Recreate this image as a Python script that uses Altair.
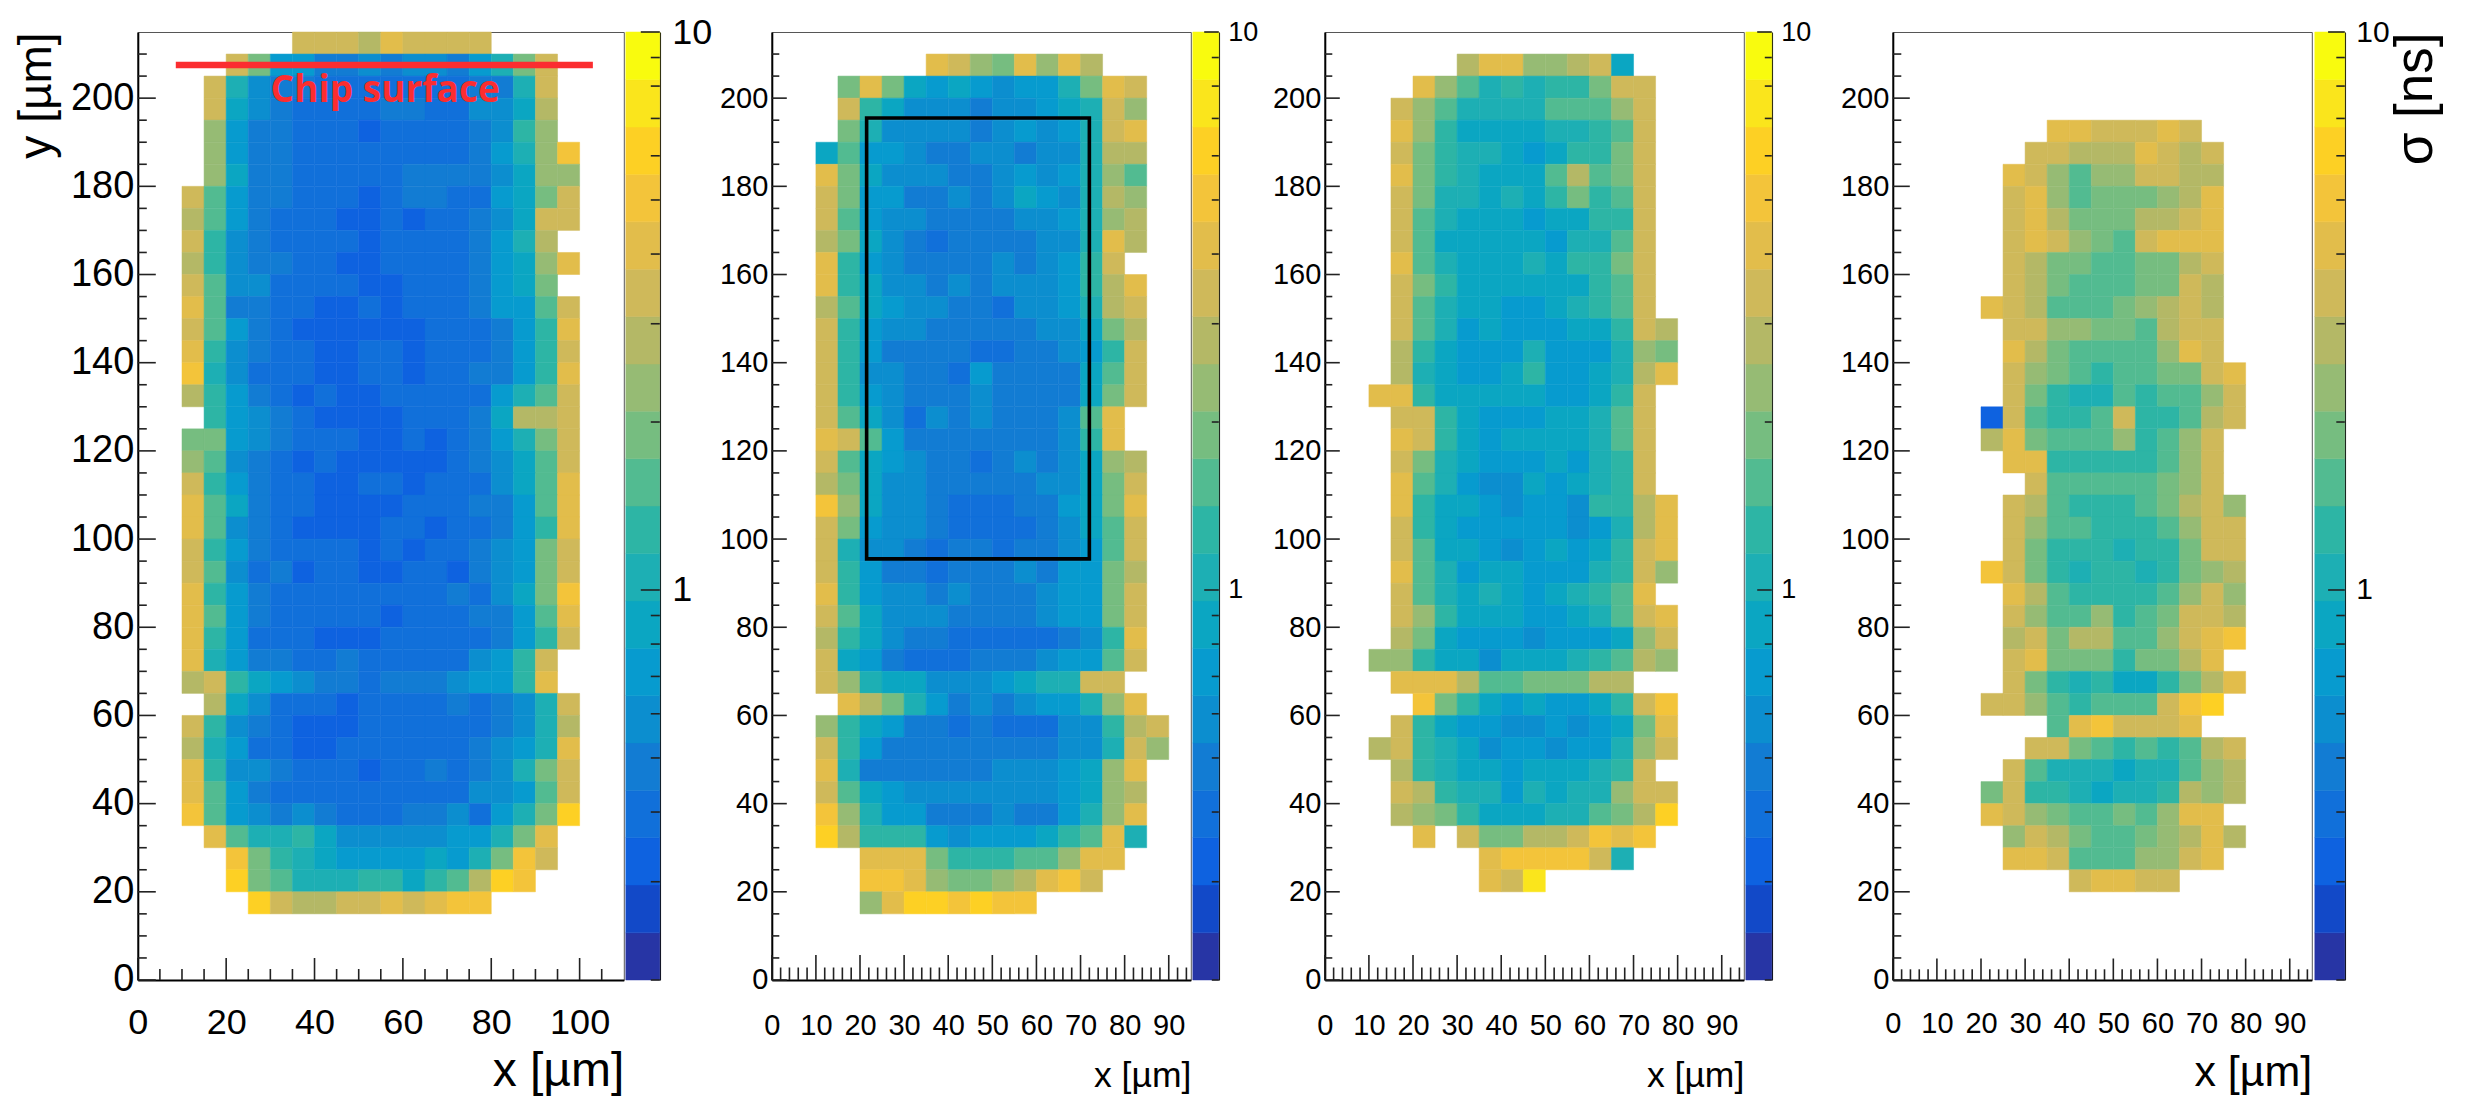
import altair as alt
import pandas as pd

# palette bands, bottom of the colour bar to the top
BAND_COLORS = ["#2735a5", "#1249c8", "#0e62e0", "#1170da", "#127cd3", "#0c8ecf", "#079bcf", "#0ba6c2", "#1dafb4", "#2db5a5",
               "#52bb91", "#76bd80", "#96bb74", "#b4b866", "#cfb95a", "#e2bd4b", "#f3c43a", "#fdd024", "#fae51c", "#f9fb0e"]
BAND_EDGES = [0.2, 0.243, 0.296, 0.36, 0.437, 0.532, 0.647, 0.786, 0.956, 1.163, 1.414, 1.719, 2.091, 2.542, 3.091,
              3.758, 4.57, 5.557, 6.757, 8.216, 10.0]
SIGMA_MINOR = [0.2, 0.3, 0.4, 0.5, 0.6, 0.7, 0.8, 0.9, 2, 3, 4, 5, 6, 7, 8, 9]
SIGMA_MAJOR = [1, 10]

# (y bin low edge, x bin low edge of first cell, colour band of each 5 um cell)
PANEL_1 = [
    (210, 35, [15,15,15,14,16,15,15,15,15]),
    (205, 20, [15,12,7,7,5,5,6,5,6,6,5,7,9,12,15]),
    (200, 15, [15,9,6,5,5,4,4,4,4,4,4,4,5,5,9,15]),
    (195, 15, [15,8,6,5,4,4,4,4,5,5,4,4,6,6,8,14]),
    (190, 15, [13,7,5,5,4,4,4,3,4,4,4,4,5,6,10,13]),
    (185, 15, [13,7,5,5,4,4,4,4,4,4,4,4,5,7,9,13,17]),
    (180, 15, [13,8,5,5,4,4,4,4,4,5,5,5,5,6,8,13,13]),
    (175, 10, [15,11,7,5,5,4,4,4,3,4,5,5,4,4,7,8,12,15]),
    (170, 10, [14,11,7,5,4,4,4,3,3,4,3,4,4,5,6,8,15,15]),
    (165, 10, [15,10,6,5,4,4,4,4,3,4,4,4,4,5,7,9,14]),
    (160, 10, [14,10,6,5,5,4,4,3,3,4,4,4,4,5,7,8,13,16]),
    (155, 10, [15,11,6,6,4,4,4,4,3,3,4,4,4,5,7,8,12]),
    (150, 10, [16,11,5,5,4,4,3,3,4,3,4,4,4,5,7,7,11,15]),
    (145, 10, [15,11,7,5,4,3,3,3,3,3,3,4,4,4,5,7,10,16]),
    (140, 10, [16,10,6,5,4,4,3,3,4,4,3,4,4,4,5,7,10,15]),
    (135, 10, [17,9,6,4,4,4,3,3,4,4,3,4,4,5,5,7,10,16]),
    (130, 10, [14,10,7,5,4,3,4,3,3,4,4,4,4,4,7,9,11,15]),
    (125, 15, [10,7,6,5,4,3,3,3,3,4,4,4,5,8,14,14,15]),
    (120, 10, [12,12,7,6,5,4,4,4,3,3,4,3,4,5,7,9,12,15]),
    (115, 10, [13,11,6,5,4,3,4,3,3,3,3,3,4,5,6,8,11,15]),
    (110, 10, [15,10,7,5,4,4,3,3,4,4,3,4,4,4,6,8,11,16]),
    (105, 10, [16,11,8,5,4,4,3,3,3,3,4,4,4,5,5,7,11,16]),
    (100, 10, [16,11,6,5,4,3,3,3,3,4,4,3,4,4,5,7,10,16]),
    (95, 10, [15,10,7,5,4,4,4,4,3,4,3,4,4,5,6,7,12,15]),
    (90, 10, [15,11,6,4,5,3,4,4,3,3,4,4,3,5,6,7,12,15]),
    (85, 10, [16,10,7,5,4,4,4,4,4,4,4,4,5,4,6,8,12,17]),
    (80, 10, [16,11,7,5,4,4,4,4,4,3,4,4,4,5,5,7,11,16]),
    (75, 10, [16,10,7,4,4,4,3,3,3,4,4,4,4,4,5,7,10,15]),
    (70, 10, [16,9,7,5,5,4,4,5,4,4,4,4,4,6,7,10,15]),
    (65, 10, [14,15,10,8,7,6,5,5,4,5,5,5,6,7,7,10,16]),
    (60, 15, [14,8,6,4,4,4,3,4,4,4,4,5,4,5,6,9,15]),
    (55, 10, [15,10,6,5,4,3,3,3,4,4,4,4,4,4,5,6,9,14]),
    (50, 10, [14,9,7,4,4,3,3,4,4,4,4,4,4,5,6,7,9,16]),
    (45, 10, [16,10,6,6,5,4,4,4,3,4,4,5,4,5,6,9,12,15]),
    (40, 10, [16,11,7,5,4,4,4,4,4,4,4,4,4,6,6,7,11,15]),
    (35, 10, [17,11,7,6,5,6,5,4,4,4,5,5,6,4,7,9,12,18]),
    (30, 15, [16,11,9,9,10,8,6,6,6,6,6,7,7,9,12,16]),
    (25, 20, [17,12,10,9,8,7,7,7,7,8,7,9,12,17,15]),
    (20, 20, [18,12,11,9,9,9,10,10,8,10,11,14,18,17]),
    (15, 25, [18,15,14,14,15,15,16,15,16,17,17]),
]

PANEL_2 = [
    (205, 35, [16,15,13,12,16,13,16,14]),
    (200, 15, [12,16,12,8,7,8,7,6,7,7,9,12,16,15]),
    (195, 15, [15,10,8,6,6,6,5,6,6,7,8,9,15,13]),
    (190, 15, [12,9,6,6,6,6,5,6,7,6,7,9,15,16]),
    (185, 10, [8,11,7,7,6,5,5,6,6,5,6,6,9,14,14]),
    (180, 10, [16,12,8,6,6,6,5,5,6,7,6,7,9,13,11]),
    (175, 10, [15,12,7,7,5,5,6,5,6,8,7,6,9,14,13]),
    (170, 10, [15,11,7,6,6,5,5,5,5,6,6,7,9,13,14]),
    (165, 10, [14,12,8,6,5,4,5,5,5,5,6,6,9,16,14]),
    (160, 10, [16,10,7,6,5,5,5,5,6,5,6,7,10,15]),
    (155, 10, [16,10,8,6,6,5,6,5,6,6,6,7,10,14,16]),
    (150, 10, [14,11,8,7,6,6,5,5,4,6,6,7,9,14,15]),
    (145, 10, [15,10,7,6,6,5,5,5,5,5,6,6,8,12,14]),
    (140, 10, [15,10,7,5,5,5,5,4,4,5,5,6,7,10,15]),
    (135, 10, [15,10,6,6,5,5,4,7,5,5,5,5,8,11,15]),
    (130, 10, [15,10,7,6,5,5,5,6,5,5,5,5,8,12,15]),
    (125, 10, [15,11,8,6,4,6,5,6,5,5,5,6,11,16]),
    (120, 10, [16,15,11,7,5,5,5,5,5,5,5,6,10,16]),
    (115, 10, [15,11,8,7,6,5,5,4,5,6,5,6,8,13,14]),
    (110, 10, [14,12,8,6,6,5,5,5,5,5,6,6,8,12,15]),
    (105, 10, [17,13,8,6,6,5,4,4,4,5,5,7,8,12,16]),
    (100, 10, [15,12,7,6,6,5,4,4,4,4,5,6,8,11,15]),
    (95, 10, [15,9,6,6,5,4,5,5,4,5,5,6,7,11,15]),
    (90, 10, [15,10,7,5,5,4,5,5,5,6,5,7,7,12,14]),
    (85, 10, [16,10,7,6,6,5,6,5,5,5,6,7,7,12,15]),
    (80, 10, [15,11,8,6,6,6,5,5,5,5,6,7,7,12,15]),
    (75, 10, [14,10,8,6,5,5,4,4,4,4,4,5,6,10,16]),
    (70, 10, [15,8,7,5,4,4,4,5,5,5,6,7,7,11,15]),
    (65, 10, [15,13,9,8,8,6,6,6,7,8,9,9,15,15]),
    (60, 15, [16,14,12,9,7,5,6,5,6,7,7,9,13,16]),
    (55, 10, [13,10,8,7,5,5,4,5,4,4,4,6,6,10,14,15]),
    (50, 10, [15,10,7,5,5,5,5,5,5,5,5,6,6,9,15,13]),
    (45, 10, [16,9,5,5,5,5,5,5,6,6,6,7,8,13,16]),
    (40, 10, [15,11,8,7,6,6,6,6,6,6,6,7,8,13,14]),
    (35, 10, [17,13,9,7,7,5,5,5,6,5,5,7,9,13,16]),
    (30, 10, [18,14,10,10,10,7,6,7,7,7,8,10,11,16,9]),
    (25, 20, [16,16,16,12,10,10,10,11,11,13,16,16]),
    (20, 20, [17,17,16,13,12,12,13,14,16,17,15]),
    (15, 20, [13,16,18,18,17,18,17,17]),
]

PANEL_3 = [
    (205, 30, [14,16,16,13,13,14,15,8]),
    (200, 20, [16,13,11,9,10,9,10,10,12,15,15]),
    (195, 15, [15,13,11,9,9,9,9,11,11,11,13,15]),
    (190, 15, [16,13,10,8,8,8,8,9,9,10,11,15]),
    (185, 15, [15,12,10,9,9,8,7,8,10,10,12,15]),
    (180, 15, [16,12,10,9,8,8,8,11,14,11,12,15]),
    (175, 15, [15,12,9,9,8,9,8,10,12,10,11,15]),
    (170, 15, [15,11,9,8,8,8,7,8,8,10,10,15]),
    (165, 15, [15,11,8,8,8,8,8,7,9,9,11,15]),
    (160, 15, [16,11,9,8,8,8,9,8,10,10,12,15]),
    (155, 15, [15,12,10,8,8,8,8,8,8,10,11,15]),
    (150, 15, [15,11,9,8,8,7,7,8,9,10,11,15]),
    (145, 15, [15,11,9,7,8,7,7,7,8,8,10,15,14]),
    (140, 15, [14,10,8,7,7,7,9,7,7,7,9,13,12]),
    (135, 15, [14,9,8,7,7,8,10,7,7,8,9,14,16]),
    (130, 10, [16,16,10,8,8,8,8,8,7,7,8,10,15]),
    (125, 15, [15,15,10,8,7,7,7,8,8,9,11,15]),
    (120, 15, [16,15,10,8,7,8,8,8,8,9,11,15]),
    (115, 15, [15,12,9,8,7,7,7,8,7,9,10,15]),
    (110, 15, [16,11,9,7,6,6,8,7,8,9,10,15]),
    (105, 15, [16,10,8,8,7,6,7,7,6,10,10,14,16]),
    (100, 15, [15,10,8,7,7,7,7,7,6,7,9,14,16]),
    (95, 15, [15,11,8,8,7,6,7,8,7,8,10,15,16]),
    (90, 15, [16,11,9,7,8,8,7,7,7,9,10,15,13]),
    (85, 15, [15,11,9,8,9,8,7,8,9,10,11,16]),
    (80, 15, [15,13,10,8,8,8,7,7,8,9,11,15,16]),
    (75, 15, [14,12,8,7,7,7,6,7,7,7,8,13,15]),
    (70, 10, [13,13,10,8,8,6,8,8,8,9,10,11,14,13]),
    (65, 15, [16,16,16,14,11,11,12,12,12,14,14]),
    (60, 20, [17,12,10,8,7,8,7,7,8,10,15,17]),
    (55, 15, [15,10,8,7,7,6,6,7,6,7,8,12,16]),
    (50, 10, [14,15,10,9,8,6,7,7,6,7,7,9,13,15]),
    (45, 15, [14,10,9,8,8,7,8,8,8,9,10,15]),
    (40, 15, [15,14,10,9,9,7,9,8,9,9,13,15,15]),
    (35, 15, [14,13,12,10,8,8,8,9,9,11,12,14,18]),
    (30, 20, [16]),
    (30, 30, [15,12,12,14,14,15,17,16,17]),
    (25, 35, [16,17,17,17,17,15,9]),
    (20, 35, [16,15,19]),
]

PANEL_4 = [
    (190, 35, [16,16,15,15,15,16,15]),
    (185, 30, [15,15,14,14,14,16,15,14,15]),
    (180, 25, [16,15,13,11,13,13,15,15,14,14]),
    (175, 25, [15,16,13,11,12,12,12,13,14,16]),
    (170, 25, [15,16,14,12,12,12,14,14,15,16]),
    (165, 25, [15,16,15,13,12,11,15,16,16,16]),
    (160, 25, [15,14,12,12,11,11,12,12,14,15]),
    (155, 25, [15,14,12,11,11,11,12,12,15,14]),
    (150, 20, [16,15,14,11,11,11,12,13,14,15,14]),
    (145, 25, [15,15,13,13,12,12,11,14,15,15]),
    (140, 25, [16,14,12,11,11,11,11,13,16,15]),
    (135, 25, [15,13,12,11,10,11,11,12,12,15,16]),
    (130, 25, [15,12,10,9,9,11,10,11,11,13,15]),
    (125, 20, [3,15,11,10,10,11,15,10,10,11,14,15]),
    (120, 20, [14,16,12,11,11,11,13,10,11,13,15]),
    (115, 25, [16,16,10,10,10,10,10,11,13,15]),
    (110, 30, [15,11,11,11,11,11,12,13,15]),
    (105, 25, [15,14,11,10,10,10,11,12,14,15,13]),
    (100, 25, [15,13,11,11,10,10,10,11,13,15,15]),
    (95, 25, [15,12,10,10,10,9,10,10,12,15,15]),
    (90, 20, [17,15,12,10,9,10,10,9,10,12,13,14]),
    (85, 25, [16,14,11,10,10,10,10,11,13,15,13]),
    (80, 25, [15,13,11,11,13,10,11,12,15,15,14]),
    (75, 25, [14,15,12,14,14,11,11,13,15,16,17]),
    (70, 25, [15,16,12,12,12,10,12,12,14,16]),
    (65, 25, [15,12,10,9,10,8,8,10,12,14,16]),
    (60, 20, [15,15,13,11,10,11,11,11,15,17,18]),
    (55, 35, [11,16,17,15,15,15,16]),
    (50, 30, [15,15,12,11,10,11,10,11,14,15]),
    (45, 25, [15,11,9,9,9,8,9,9,11,13,14]),
    (40, 20, [12,15,10,10,9,8,9,9,10,14,13,14]),
    (35, 20, [16,15,13,12,11,11,12,11,13,16,16]),
    (30, 25, [13,15,14,12,11,11,12,13,14,16,14]),
    (25, 25, [16,16,15,11,11,11,13,13,15,16]),
    (20, 40, [15,16,16,15,15]),
]

X_LABELS_WIDE = [0, 20, 40, 60, 80, 100]
X_LABELS_NARROW = [0, 10, 20, 30, 40, 50, 60, 70, 80, 90]
Y_LABELS = [0, 20, 40, 60, 80, 100, 120, 140, 160, 180, 200]
Y_MINOR = [v for v in range(5, 215, 5) if v % 20 != 0]

CHIP_LINE = pd.DataFrame({"x": [8.6], "x2": [103], "y": [207.5]})
CHIP_TEXT = pd.DataFrame({"x": [56], "y": [199.2], "label": ["Chip surface"]})
BOX = pd.DataFrame({"x": [21.5], "x2": [72], "y": [95.5], "y2": [195.5]})

FONT = "Liberation Sans"
PLOT_H = 948
CELL = 5


def cells(rows):
    out = []
    for y, x_start, bands in rows:
        for i, band in enumerate(bands):
            out.append({"x": x_start + i * CELL, "x2": x_start + (i + 1) * CELL, "y": y, "y2": y + CELL, "band": band})
    return pd.DataFrame(out)


def spacer(width):
    return (
        alt.Chart(pd.DataFrame({"a": [0]}))
        .mark_rect(opacity=0)
        .encode(x=alt.value(0))
        .properties(width=width, height=PLOT_H, view=alt.ViewConfig(stroke="transparent", strokeWidth=0))
    )


def heatmap(rows, width, xmax, x_major, x_minor, label_size, ylabel_size, title_size, x_pad, title_y,
            yt=(15, 7.5), xt=(25, 12.5), y_title=None, extras=()):
    x_scale = alt.Scale(domain=[0, xmax], nice=False, zero=False)
    y_scale = alt.Scale(domain=[0, 215], nice=False, zero=False)
    y_axis = dict(values=Y_LABELS, ticks=False, tickSize=0, grid=False, labelFontSize=ylabel_size, labelFont=FONT,
                  labelColor="black", labelPadding=4, labelOverlap=False, domainColor="black", domainWidth=2,
                  labelFlush=False, format="d")
    if y_title:
        y_axis.update(title=y_title, titleFont=FONT, titleFontSize=46, titleFontWeight="normal", titleAngle=270,
                      titleAlign="right", titleBaseline="alphabetic", titleX=-87, titleY=0, titleColor="black")
    else:
        y_axis["title"] = None

    base = alt.Chart(cells(rows)).mark_rect(strokeWidth=0.5).encode(
        x=alt.X("x:Q", scale=x_scale, axis=alt.Axis(
            values=x_major, ticks=False, tickSize=0, grid=False, labelFontSize=label_size, labelFont=FONT,
            labelColor="black", labelPadding=x_pad, labelOverlap=False, labelFlush=False, domainColor="black",
            domainWidth=2, format="d", title="x [µm]", titleFont=FONT, titleFontSize=title_size,
            titleFontWeight="normal", titleAlign="right", titleBaseline="alphabetic", titleX=width, titleY=title_y,
            titleColor="black")),
        x2="x2:Q",
        y=alt.Y("y:Q", scale=y_scale, axis=alt.Axis(**y_axis)),
        y2="y2:Q",
        color=alt.Color("band:O", scale=alt.Scale(domain=list(range(1, 21)), range=BAND_COLORS), legend=None),
        stroke=alt.Stroke("band:O", scale=alt.Scale(domain=list(range(1, 21)), range=BAND_COLORS), legend=None),
    )

    layers = [base]
    for values, length in ((x_major, xt[0]), (x_minor, xt[1])):
        layers.append(
            alt.Chart(pd.DataFrame({"t": values})).mark_rule(color="#222222", strokeWidth=1.6).encode(
                x=alt.X("t:Q", scale=x_scale), y=alt.value(PLOT_H), y2=alt.value(PLOT_H - length))
        )
    for values, length in ((Y_LABELS, yt[0]), (Y_MINOR, yt[1])):
        layers.append(
            alt.Chart(pd.DataFrame({"t": values})).mark_rule(color="#222222", strokeWidth=1.6).encode(
                y=alt.Y("t:Q", scale=y_scale), x=alt.value(0), x2=alt.value(length))
        )
    for extra in extras:
        layers.append(extra(x_scale, y_scale))
    return alt.layer(*layers).properties(width=width, height=PLOT_H)


def colorbar(width, label_size, pad, major_len, minor_len, title=None):
    y_scale = alt.Scale(type="log", domain=[0.2, 10], nice=False)
    bands = pd.DataFrame({"lo": BAND_EDGES[:-1], "hi": BAND_EDGES[1:], "band": list(range(1, 21))})
    axis = dict(orient="right", values=SIGMA_MAJOR, ticks=False, tickSize=0, grid=False, labelFontSize=label_size,
                labelFont=FONT, labelColor="black", labelPadding=pad, labelOverlap=False, labelFlush=False,
                domainColor="#111111", domainWidth=1.5, format="d", labelBaseline="middle")
    if title:
        axis.update(title=title, titleFont=FONT, titleFontSize=53, titleFontWeight="normal", titleAngle=270,
                    titleAlign="right", titleBaseline="alphabetic", titleX=87, titleY=0, titleColor="black")
    else:
        axis["title"] = None
    rect = alt.Chart(bands).mark_rect(strokeWidth=0.5).encode(
        x=alt.value(0), x2=alt.value(width),
        y=alt.Y("lo:Q", scale=y_scale, axis=alt.Axis(**axis)), y2="hi:Q",
        color=alt.Color("band:O", scale=alt.Scale(domain=list(range(1, 21)), range=BAND_COLORS), legend=None),
        stroke=alt.Stroke("band:O", scale=alt.Scale(domain=list(range(1, 21)), range=BAND_COLORS), legend=None),
    )
    layers = [rect]
    for values, length in ((SIGMA_MAJOR, major_len), (SIGMA_MINOR, minor_len)):
        layers.append(
            alt.Chart(pd.DataFrame({"t": values})).mark_rule(color="#222222", strokeWidth=1.6).encode(
                y=alt.Y("t:Q", scale=y_scale), x=alt.value(width - length), x2=alt.value(width))
        )
    return alt.layer(*layers).properties(
        width=width, height=PLOT_H, view=alt.ViewConfig(stroke="transparent", strokeWidth=0))


def chip_line(x_scale, y_scale):
    return alt.Chart(CHIP_LINE).mark_rule(color="#fb2d30", strokeWidth=6.4).encode(
        x=alt.X("x:Q", scale=x_scale), x2="x2:Q", y=alt.Y("y:Q", scale=y_scale))


def chip_text(x_scale, y_scale):
    return alt.Chart(CHIP_TEXT).mark_text(
        color="#fb2d30", font="Open Sans", fontSize=37, fontWeight=700, baseline="alphabetic", align="center"
    ).encode(x=alt.X("x:Q", scale=x_scale), y=alt.Y("y:Q", scale=y_scale), text="label:N")


def box(x_scale, y_scale):
    return alt.Chart(BOX).mark_rect(fillOpacity=0, stroke="black", strokeWidth=3.6).encode(
        x=alt.X("x:Q", scale=x_scale), x2="x2:Q", y=alt.Y("y:Q", scale=y_scale), y2="y2:Q")


minor_wide = [v for v in range(5, 110, 5) if v % 20 != 0]
minor_narrow = [v for v in range(2, 95, 2) if v % 10 != 0]

p1 = heatmap(PANEL_1, 486, 110, X_LABELS_WIDE, minor_wide, 36, 38, 48, 26, 106, yt=(18, 9), xt=(22, 11),
             y_title="y [µm]", extras=(chip_line, chip_text))
p2 = heatmap(PANEL_2, 419, 95, X_LABELS_NARROW, minor_narrow, 29, 29, 35.5, 32, 107, extras=(box,))
p3 = heatmap(PANEL_3, 419, 95, X_LABELS_NARROW, minor_narrow, 29, 29, 35.5, 32, 107)
p4 = heatmap(PANEL_4, 419, 95, X_LABELS_NARROW, minor_narrow, 29, 29, 43, 30, 106, yt=(17, 8.5), xt=(21.5, 10.7))

chart = alt.hconcat(
    p1, spacer(2), colorbar(34, 36, 12, 19, 9),
    spacer(112),
    p2, spacer(2), colorbar(26, 27, 9, 14.6, 7),
    spacer(106),
    p3, spacer(2), colorbar(26, 27, 9, 14.6, 7),
    spacer(121),
    p4, spacer(3), colorbar(30, 30, 11, 16.7, 8.5, title="σ [ns]"),
    spacing=0,
    bounds="flush",
).properties(
    padding={"left": 4.8, "top": 6, "right": 0, "bottom": 0},
).configure_view(stroke="#555555", strokeWidth=1)

chart.save("out.html", embed_options={"renderer": "svg", "actions": False})
